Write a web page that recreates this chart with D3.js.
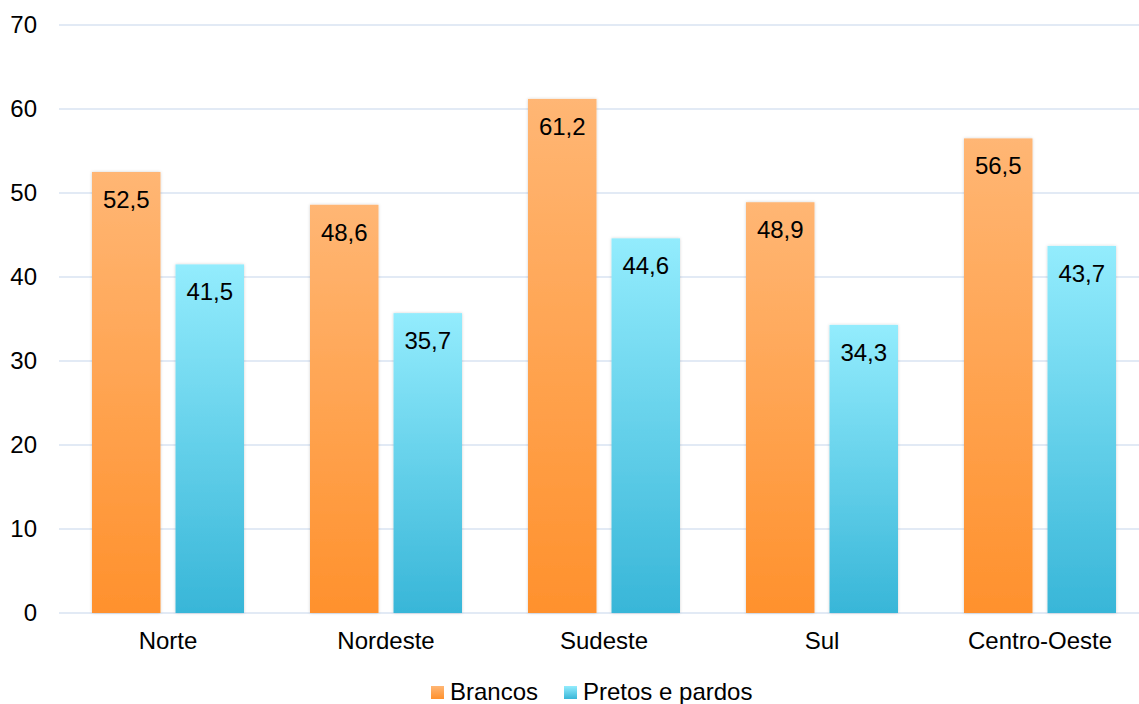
<!DOCTYPE html>
<html><head><meta charset="utf-8">
<script src="https://cdn.jsdelivr.net/npm/d3@7"></script>
<style>body{margin:0;background:#fff;}svg{display:block;font-family:"Liberation Sans",Arial,sans-serif;}</style>
</head><body><svg id="c" width="1139" height="704"></svg>
<script>
const categories = ["Norte","Nordeste","Sudeste","Sul","Centro-Oeste"];
const seriesNames = ["Brancos","Pretos e pardos"];
const brancos = [52.5,48.6,61.2,48.9,56.5];
const pretos = [41.5,35.7,44.6,34.3,43.7];
const yTicks = [0,10,20,30,40,50,60,70];

const svg = d3.select("#c");
const x0 = d3.scaleBand().domain(categories).range([59,1149]).paddingInner(0).paddingOuter(0);
const x1 = d3.scaleBand().domain(seriesNames).range([33,185]).paddingInner(0.18);
const y = d3.scaleLinear().domain([0,70]).range([613,25]);

const defs = svg.append("defs");
const gradO = defs.append("linearGradient").attr("id","gO").attr("x1",0).attr("y1",0).attr("x2",0).attr("y2",1);
gradO.append("stop").attr("offset","0%").attr("stop-color","#FFB674");
gradO.append("stop").attr("offset","100%").attr("stop-color","#FF912D");
const gradC = defs.append("linearGradient").attr("id","gC").attr("x1",0).attr("y1",0).attr("x2",0).attr("y2",1);
gradC.append("stop").attr("offset","0%").attr("stop-color","#93ECFD");
gradC.append("stop").attr("offset","100%").attr("stop-color","#38B6D8");
const f = defs.append("filter").attr("id","sh").attr("x","-20%").attr("y","-5%").attr("width","140%").attr("height","110%");
f.append("feDropShadow").attr("dx",0).attr("dy",0).attr("stdDeviation",1.5).attr("flood-color","#000").attr("flood-opacity",0.18);

// gridlines
svg.append("g").selectAll("line").data(yTicks).join("line")
  .attr("x1",59).attr("x2",1139).attr("y1",d=>y(d)).attr("y2",d=>y(d))
  .attr("stroke","#D9E3F2").attr("stroke-width",1.5);

// y tick labels
svg.append("g").selectAll("text").data(yTicks).join("text")
  .attr("x",37).attr("y",d=>y(d)+8).attr("text-anchor","end")
  .attr("font-size",24).attr("fill","#000").text(d=>d);

const fills = {"Brancos":"url(#gO)","Pretos e pardos":"url(#gC)"};
const data = categories.map((c,i)=>({c, vals:[{s:"Brancos",v:brancos[i]},{s:"Pretos e pardos",v:pretos[i]}]}));
const g = svg.append("g").selectAll("g").data(data).join("g")
  .attr("transform",d=>`translate(${x0(d.c)},0)`);
g.selectAll("rect").data(d=>d.vals).join("rect")
  .attr("x",d=>x1(d.s)).attr("width",x1.bandwidth())
  .attr("y",d=>y(d.v)).attr("height",d=>y(0)-y(d.v))
  .attr("fill",d=>fills[d.s]).attr("filter","url(#sh)");
g.selectAll("text.v").data(d=>d.vals).join("text").attr("class","v")
  .attr("x",d=>x1(d.s)+x1.bandwidth()/2).attr("y",d=>y(d.v)+36)
  .attr("text-anchor","middle").attr("font-size",24).attr("fill","#000")
  .text(d=>d3.format(".1f")(d.v).replace(".",","));

// category labels
svg.append("g").selectAll("text").data(categories).join("text")
  .attr("x",d=>x0(d)+x0.bandwidth()/2).attr("y",649).attr("text-anchor","middle")
  .attr("font-size",24).attr("fill","#000").text(d=>d);

// legend
const leg = [{s:"Brancos",x:431},{s:"Pretos e pardos",x:564}];
const lg = svg.append("g").selectAll("g").data(leg).join("g").attr("transform",d=>`translate(${d.x},686)`);
lg.append("rect").attr("width",13).attr("height",13).attr("fill",d=>fills[d.s]);
lg.append("text").attr("x",19).attr("y",14).attr("font-size",24).attr("fill","#000").text(d=>d.s);
</script></body></html>
